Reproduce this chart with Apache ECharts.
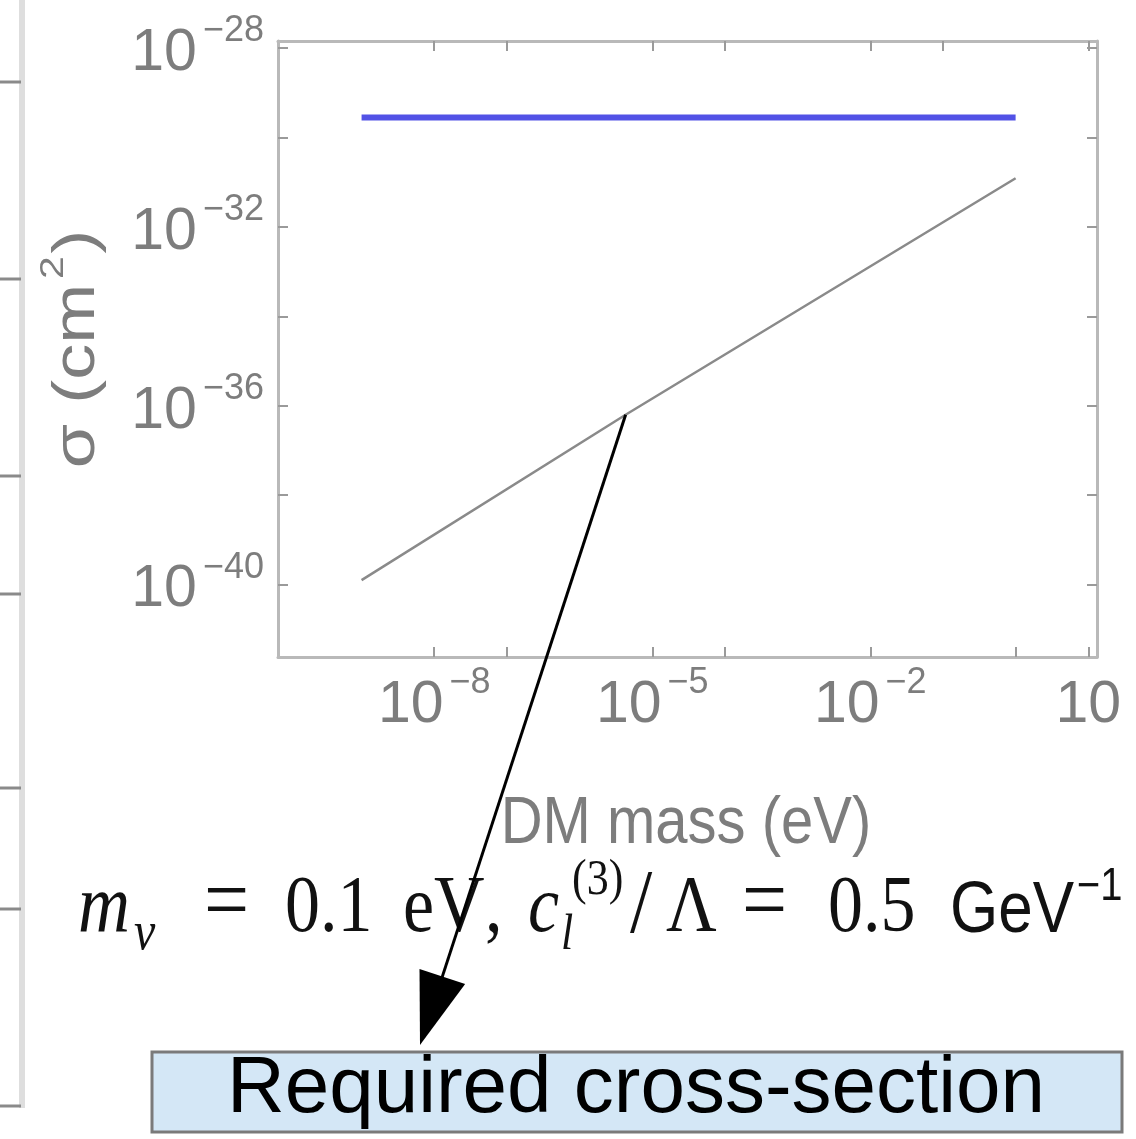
<!DOCTYPE html>
<html><head><meta charset="utf-8">
<script src="https://cdn.jsdelivr.net/npm/echarts@6/dist/echarts.min.js"></script>
<style>html,body{margin:0;padding:0;background:#fff}#c{width:1136px;height:1139px}</style>
</head><body><div id="c"></div>
<script>
// ---- data ----
const blueMass = [1e-9, 1];                 // eV
const blueSigma = [2.8e-30, 2.8e-30];       // cm^2
const grayMass = [1e-9, 4.3e-6, 1];         // eV
const graySigma = [1.26e-40, 6.3e-37, 1.23e-31]; // cm^2
const xTickExps = [-8, -7, -5, -4, -2, 0, 1];
const xTopTickExps = [-8, -7, -5, -4, -2, -1, 1];
const xLabelExps = [-8, -5, -2, 1];
const yTickExps = [-40, -38, -36, -34, -32, -30, -28];
const yLabelExps = [-40, -36, -32, -28];
const xRangeExp = [-10.15, 1.12];
const yRangeExp = [-41.62, -27.84];

const SANS = '"Liberation Sans", Arial, sans-serif';
const SERIF = '"Liberation Serif", "Times New Roman", serif';
const GRAY_TXT = '#7d7d7d';
const FRAME = '#b9b9b9';
const TICK = '#9a9a9a';

function toPairs(xs, ys) { return xs.map((x, i) => [Math.log10(x), Math.log10(ys[i])]); }
function powLabel(v) {
  const e = Math.round(v);
  if (e === 1) return '{b|10}';
  return '{b|10}{s|' + (e < 0 ? '\u2212' + (-e) : e) + '}';
}
const labelRich = {
  b: { fontSize: 59, lineHeight: 70, fontFamily: SANS, color: GRAY_TXT, verticalAlign: 'bottom' },
  s: { fontSize: 36, lineHeight: 26, fontFamily: SANS, color: GRAY_TXT, verticalAlign: 'top', padding: [0, 0, 6, 6] }
};

const chart = echarts.init(document.getElementById('c'), null, { renderer: 'canvas' });

const baseX = (pos, ticks, labels) => ({
  type: 'value', position: pos, min: xRangeExp[0], max: xRangeExp[1],
  axisLine: { show: true, onZero: false, lineStyle: { color: FRAME, width: 3 } },
  axisTick: { show: true, inside: true, length: 10, customValues: ticks, lineStyle: { color: TICK, width: 2 } },
  axisLabel: labels ? { show: true, customValues: labels, formatter: powLabel, rich: labelRich, margin: 8 } : { show: false },
  splitLine: { show: false }
});
const baseY = (pos, ticks, labels) => ({
  type: 'value', position: pos, min: yRangeExp[0], max: yRangeExp[1],
  axisLine: { show: true, onZero: false, lineStyle: { color: FRAME, width: 3 } },
  axisTick: { show: true, inside: true, length: 10, customValues: ticks, lineStyle: { color: TICK, width: 2 } },
  axisLabel: labels ? { show: true, customValues: labels, formatter: powLabel, rich: labelRich, margin: 14 } : { show: false },
  splitLine: { show: false }
});

const option = {
  backgroundColor: '#ffffff',
  animation: false,
  grid: { left: 278, top: 41, width: 819, height: 616, containLabel: false },
  xAxis: [baseX('bottom', xTickExps, xLabelExps), baseX('top', xTopTickExps, null)],
  yAxis: [baseY('left', yTickExps, yLabelExps), baseY('right', yTickExps, null)],
  series: [
    { type: 'line', xAxisIndex: 0, yAxisIndex: 0, data: toPairs(blueMass, blueSigma), showSymbol: false,
      lineStyle: { color: '#5252e6', width: 6 }, z: 3 },
    { type: 'line', xAxisIndex: 0, yAxisIndex: 0, data: toPairs(grayMass, graySigma), showSymbol: false,
      lineStyle: { color: '#8a8a8a', width: 2.5 }, z: 3 }
  ]
};
chart.setOption(option);

// ---- annotations ----
const g = [];
// cropped neighbouring axis on the far left
const stripTicks = [82, 279, 476, 594, 788, 909, 1106];
g.push({ type: 'line', shape: { x1: 22, y1: 0, x2: 22, y2: 1108 }, style: { stroke: '#dedede', lineWidth: 6 } });
stripTicks.forEach(y => g.push({ type: 'line', shape: { x1: 0, y1: y, x2: 21, y2: y }, style: { stroke: '#8a8a8a', lineWidth: 3 } }));

// y-axis title (rotated)
g.push({ type: 'text', x: 72, y: 349, rotation: Math.PI / 2, scaleX: 1.2,
  style: { text: '{a|\u03c3 (cm}{s|2}{a|)}', align: 'center', verticalAlign: 'middle', fill: GRAY_TXT,
    rich: { a: { fontSize: 60, lineHeight: 70, fontFamily: SANS, fill: GRAY_TXT, verticalAlign: 'bottom' },
            s: { fontSize: 34, lineHeight: 34, fontFamily: SANS, fill: GRAY_TXT, verticalAlign: 'top', padding: [0, 2, 0, 4] } } } });
// x-axis title
g.push({ type: 'text', x: 686, y: 825, scaleY: 1.15,
  style: { text: 'DM mass (eV)', font: '58px ' + SANS, fill: GRAY_TXT, align: 'center', verticalAlign: 'middle' } });

// parameter line
const pieces = [
  { t: 'm', x: 78, f: 72, it: true, fam: SERIF, dy: 0 },
  { t: '\u03bd', x: 134, f: 48, it: true, fam: SERIF, dy: 14 },
  { t: '=', x: 204, f: 80, fam: SERIF, dy: 0 },
  { t: '0.1', x: 285, f: 70, fam: SERIF, dy: 0 },
  { t: 'eV', x: 403, f: 70, fam: SERIF, dy: 0 },
  { t: ',', x: 485, f: 70, fam: SERIF, dy: 0 },
  { t: 'c', x: 528, f: 70, it: true, fam: SERIF, dy: 0 },
  { t: 'l', x: 561, f: 44, it: true, fam: SERIF, dy: 14 },
  { t: '(3)', x: 572, f: 44, fam: SERIF, dy: -34 },
  { t: '/', x: 630, f: 80, fam: SERIF, dy: 2 },
  { t: '\u039b', x: 666, f: 70, fam: SERIF, dy: 0 },
  { t: '=', x: 742, f: 80, fam: SERIF, dy: 0 },
  { t: '0.5', x: 828, f: 70, fam: SERIF, dy: 0 },
  { t: 'GeV', x: 950, f: 62, fam: SANS, dy: 0 },
  { t: '\u22121', x: 1077, f: 40, fam: SANS, dy: -30 }
];
g.push({ type: 'group', x: 0, y: 937, scaleY: 1.15,
  children: pieces.map(p => ({ type: 'text', x: p.x, y: p.dy - 0.34 * p.f,
    style: { text: p.t, font: (p.it ? 'italic ' : '') + p.f + 'px ' + p.fam, fill: '#111', align: 'left', verticalAlign: 'middle' } })) });

// label box
g.push({ type: 'rect', shape: { x: 152, y: 1052, width: 970, height: 80 }, style: { fill: '#d4e7f6', stroke: '#7a7a7a', lineWidth: 3 } });
g.push({ type: 'text', x: 636, y: 1090, style: { text: 'Required cross-section', font: '80px ' + SANS, fill: '#000', align: 'center', verticalAlign: 'middle' } });

// arrow from the kink of the gray curve to the box
const kink = chart.convertToPixel({ xAxisIndex: 0, yAxisIndex: 0 }, [Math.log10(grayMass[1]), Math.log10(graySigma[1])]);
const tip = [420, 1045];
const dx = tip[0] - kink[0], dy = tip[1] - kink[1];
const L = Math.hypot(dx, dy), ux = dx / L, uy = dy / L;
const headLen = 72, halfW = 24;
const bx = tip[0] - ux * headLen, by = tip[1] - uy * headLen;
g.push({ type: 'line', shape: { x1: kink[0], y1: kink[1], x2: bx + ux * 4, y2: by + uy * 4 }, style: { stroke: '#000', lineWidth: 3 }, z: 10 });
g.push({ type: 'polygon', shape: { points: [tip, [bx - uy * halfW, by + ux * halfW], [bx + uy * halfW, by - ux * halfW]] }, style: { fill: '#000' }, z: 10 });

chart.setOption({ graphic: g });
</script></body></html>
